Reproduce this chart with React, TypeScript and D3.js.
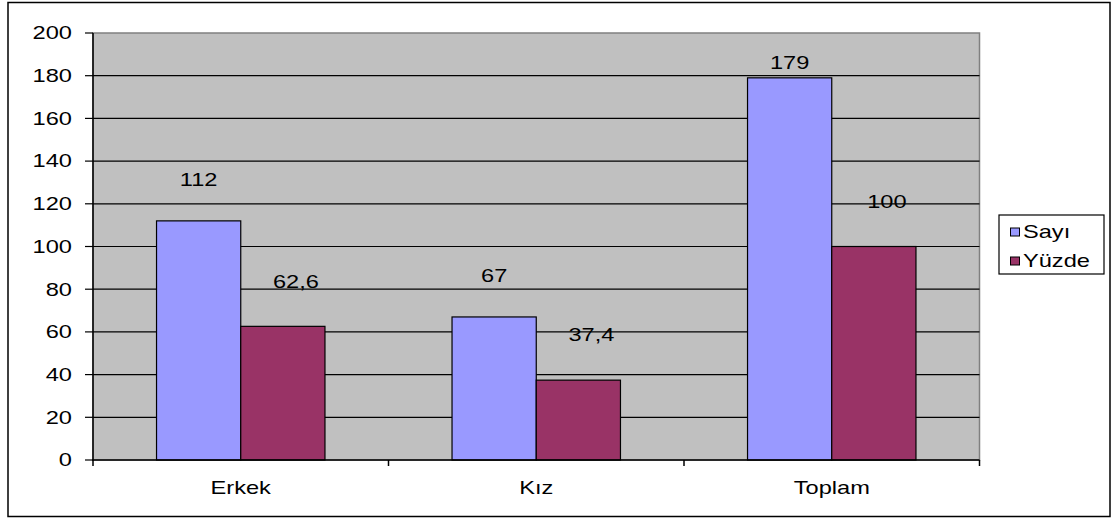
import React from "react";
import * as d3 from "d3";

// Öğrenci dağılımı: sayı ve yüzde
const categories = ["Erkek", "Kız", "Toplam"];
const seriesNames = ["Sayı", "Yüzde"];
const sayiValues = [112, 67, 179];
const yuzdeValues = [62.6, 37.4, 100];
const yTicks = [0, 20, 40, 60, 80, 100, 120, 140, 160, 180, 200];

const colors = ["#9999FF", "#993366"];
const FONT = "'Liberation Sans', Arial, sans-serif";
const FONT_SIZE = 17.5;
const STRETCH = 1.35;

const W = 1112;
const H = 518;
const plot = { left: 93, right: 979.5, top: 33, bottom: 460 };

const fmt = (v: number) => String(v).replace(".", ",");

// Text drawn with a wide horizontal scale, anchored at (x, y)
function WideText({
  x,
  y,
  anchor = "start",
  children,
}: {
  x: number;
  y: number;
  anchor?: "start" | "middle" | "end";
  children: React.ReactNode;
}) {
  return (
    <text
      transform={`translate(${x},${y}) scale(${STRETCH},1)`}
      dy="0.36em"
      textAnchor={anchor}
      fontSize={FONT_SIZE}
      fill="#000"
    >
      {children}
    </text>
  );
}

export default function App() {
  const x0 = d3
    .scaleBand<string>()
    .domain(categories)
    .range([plot.left, plot.right])
    .paddingInner(0.43)
    .paddingOuter(0.215);
  const x1 = d3
    .scaleBand<string>()
    .domain(seriesNames)
    .range([0, x0.bandwidth()]);
  const y = d3.scaleLinear().domain([0, 200]).range([plot.bottom, plot.top]);

  const series = [sayiValues, yuzdeValues];
  const catStep = (plot.right - plot.left) / categories.length;

  return (
    <svg
      width={W}
      height={H}
      style={{ position: "absolute", left: 0, top: 0, background: "#fff" }}
      fontFamily={FONT}
    >
      {/* outer frame */}
      <rect x={8} y={2.5} width={1102} height={514} fill="#fff" stroke="#000" strokeWidth={1.5} />

      {/* plot background */}
      <rect
        x={plot.left}
        y={plot.top}
        width={plot.right - plot.left}
        height={plot.bottom - plot.top}
        fill="#C0C0C0"
        stroke="#808080"
        strokeWidth={1.5}
      />

      {/* horizontal gridlines */}
      {yTicks.slice(1, -1).map((t) => (
        <line key={"g" + t} x1={plot.left} x2={plot.right} y1={y(t)} y2={y(t)} stroke="#000" strokeWidth={1.2} />
      ))}

      {/* bars */}
      {categories.map((c, i) =>
        seriesNames.map((s, j) => {
          const v = series[j][i];
          return (
            <rect
              key={c + s}
              x={(x0(c) ?? 0) + (x1(s) ?? 0)}
              y={y(v)}
              width={x1.bandwidth()}
              height={plot.bottom - y(v)}
              fill={colors[j]}
              stroke="#000"
              strokeWidth={1.2}
            />
          );
        })
      )}

      {/* axes */}
      <line x1={plot.left} x2={plot.left} y1={plot.top} y2={plot.bottom + 1} stroke="#000" strokeWidth={1.5} />
      <line x1={plot.left - 1} x2={plot.right} y1={plot.bottom} y2={plot.bottom} stroke="#000" strokeWidth={1.5} />
      {yTicks.map((t) => (
        <g key={"t" + t}>
          <line x1={plot.left - 8} x2={plot.left} y1={y(t)} y2={y(t)} stroke="#000" strokeWidth={1.2} />
          <WideText x={72} y={y(t)} anchor="end">
            {t}
          </WideText>
        </g>
      ))}
      {d3.range(categories.length + 1).map((k) => (
        <line
          key={"xt" + k}
          x1={plot.left + k * catStep}
          x2={plot.left + k * catStep}
          y1={plot.bottom}
          y2={plot.bottom + 6}
          stroke="#000"
          strokeWidth={1.5}
        />
      ))}
      {categories.map((c) => (
        <WideText key={"c" + c} x={(x0(c) ?? 0) + x0.bandwidth() / 2} y={488} anchor="middle">
          {c}
        </WideText>
      ))}

      {/* value labels */}
      {categories.map((c, i) =>
        seriesNames.map((s, j) => {
          const v = series[j][i];
          const cx = (x0(c) ?? 0) + (x1(s) ?? 0) + x1.bandwidth() / 2 + (j === 1 ? 13 : 0);
          const ly = Math.max(y(v) - (j === 0 ? 41 : 45), 63);
          return (
            <WideText key={"l" + c + s} x={cx} y={ly} anchor="middle">
              {fmt(v)}
            </WideText>
          );
        })
      )}

      {/* legend */}
      <rect x={999} y={215} width={105} height={59} fill="#fff" stroke="#000" strokeWidth={1.2} />
      {seriesNames.map((s, j) => (
        <g key={"lg" + s}>
          <rect x={1010.5} y={228 + j * 29} width={9} height={8} fill={colors[j]} stroke="#000" strokeWidth={1} />
          <WideText x={1023} y={232 + j * 29}>
            {s}
          </WideText>
        </g>
      ))}
    </svg>
  );
}
